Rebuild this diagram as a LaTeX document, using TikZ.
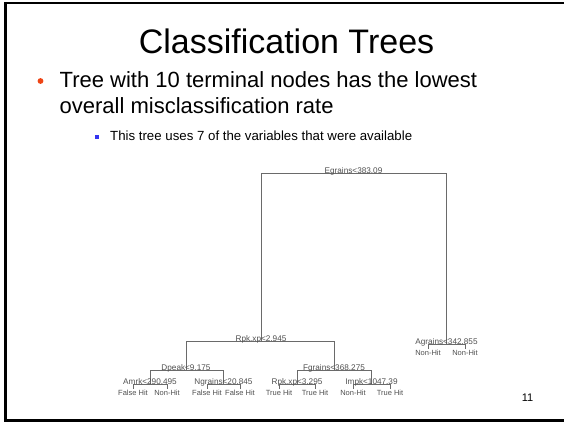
\documentclass[tikz,border=0pt]{standalone}
\usepackage{fontspec}
\setmainfont{Liberation Sans}
\definecolor{bulletred}{HTML}{EE4415}
\definecolor{bulletblue}{HTML}{3535F0}
\definecolor{treeline}{HTML}{6A6A6A}
\definecolor{treetext}{HTML}{505050}
\begin{document}
\begin{tikzpicture}[x=1pt,y=-1pt,
  frameline/.style={draw=black,line width=2.6pt},
  branch/.style={draw=treeline,line width=0.85pt},
  splitlabel/.style={anchor=base,inner sep=0pt,text=treetext,font=\fontsize{8.2}{9}\selectfont},
  leaflabel/.style={anchor=north,inner sep=0.5pt,text=treetext,font=\fontsize{7.5}{8}\selectfont}]
\useasboundingbox (0,0) rectangle (564,422);

% slide frame (left, top and bottom edges)
\draw[frameline] (5.5,2) -- (5.5,420.5);
\draw[frameline,line width=2.2pt] (4.2,3.1) -- (564,3.1);
\draw[frameline,line width=2.4pt] (4.2,420.3) -- (564,420.3);

% heading and bullets
\node[anchor=base,inner sep=0pt,font=\fontsize{34}{38}\selectfont] (title) at (286.5,54) {Classification Trees};
\fill[bulletred] (40.5,81) circle (2.9);
\node[anchor=base west,inner sep=0pt,font=\fontsize{22}{26}\selectfont] (b1a) at (59.5,88) {Tree with 10 terminal nodes has the lowest};
\node[anchor=base west,inner sep=0pt,font=\fontsize{22}{26}\selectfont] (b1b) at (59.5,114) {overall misclassification rate};
\fill[bulletblue] (95.2,135.2) rectangle (99.4,139.4);
\node[anchor=base west,inner sep=0pt,font=\fontsize{13.25}{16}\selectfont] (b2) at (110,141) {This tree uses 7 of the variables that were available};

% split points of the tree
\coordinate (root) at (353.5,173);
\coordinate (rpkA) at (261,341);
\coordinate (agr)  at (446.5,344);
\coordinate (dpk)  at (186,370);
\coordinate (fgr)  at (334,370);
\coordinate (amr)  at (150,384);
\coordinate (ngr)  at (223.5,384);
\coordinate (rpkB) at (297,384);
\coordinate (imp)  at (371.5,384);

% leaf ends
\coordinate (l1) at (133,389);
\coordinate (l2) at (167,389);
\coordinate (l3) at (207,389);
\coordinate (l4) at (240,389);
\coordinate (l5) at (279,389);
\coordinate (l6) at (315,389);
\coordinate (l7) at (353,389);
\coordinate (l8) at (390,389);
\coordinate (l9) at (428,349);
\coordinate (l10) at (465,349);

% branches: bar at the split level, verticals down to each child
\draw[branch] (rpkA |- root) -- (agr |- root);
\draw[branch] (rpkA |- root) -- (rpkA);
\draw[branch] (agr |- root) -- (agr);

\draw[branch] (dpk |- rpkA) -- (fgr |- rpkA);
\draw[branch] (dpk |- rpkA) -- (dpk);
\draw[branch] (fgr |- rpkA) -- (fgr);

\draw[branch] (l9 |- agr) -- (l10 |- agr);
\draw[branch] (l9 |- agr) -- (l9);
\draw[branch] (l10 |- agr) -- (l10);

\draw[branch] (amr |- dpk) -- (ngr |- dpk);
\draw[branch] (amr |- dpk) -- (amr);
\draw[branch] (ngr |- dpk) -- (ngr);

\draw[branch] (rpkB |- fgr) -- (imp |- fgr);
\draw[branch] (rpkB |- fgr) -- (rpkB);
\draw[branch] (imp |- fgr) -- (imp);

\foreach \s/\a/\b in {amr/l1/l2, ngr/l3/l4, rpkB/l5/l6, imp/l7/l8}{
  \draw[branch] (\a |- \s) -- (\b |- \s);
  \draw[branch] (\a |- \s) -- (\a);
  \draw[branch] (\b |- \s) -- (\b);
}

% split labels
\node[splitlabel] (troot) at ([yshift=-0.6pt]root) {Egrains<383.09};
\node[splitlabel] (trpkA) at ([yshift=-0.6pt]rpkA) {Rpk.xp<2.945};
\node[splitlabel] (tagr)  at ([yshift=-0.6pt]agr)  {Agrains<342.855};
\node[splitlabel] (tdpk)  at ([yshift=-0.6pt]dpk)  {Dpeak<9.175};
\node[splitlabel] (tfgr)  at ([yshift=-0.6pt]fgr)  {Fgrains<368.275};
\node[splitlabel] (tamr)  at ([yshift=-0.6pt]amr)  {Amrk<290.495};
\node[splitlabel] (tngr)  at ([yshift=-0.6pt]ngr)  {Ngrains<20.845};
\node[splitlabel] (trpkB) at ([yshift=-0.6pt]rpkB) {Rpk.xp<3.295};
\node[splitlabel] (timp)  at ([yshift=-0.6pt]imp)  {Impk<1047.39};

% leaf labels
\node[leaflabel] (n1) at (l1) {False Hit};
\node[leaflabel] (n2) at (l2) {Non-Hit};
\node[leaflabel] (n3) at (l3) {False Hit};
\node[leaflabel] (n4) at (l4) {False Hit};
\node[leaflabel] (n5) at (l5) {True Hit};
\node[leaflabel] (n6) at (l6) {True Hit};
\node[leaflabel] (n7) at (l7) {Non-Hit};
\node[leaflabel] (n8) at (l8) {True Hit};
\node[leaflabel] (n9) at (l9) {Non-Hit};
\node[leaflabel] (n10) at (l10) {Non-Hit};

% page number
\node[anchor=base,inner sep=0pt,font=\fontsize{11}{13}\selectfont] (pg) at (527.5,401) {11};
\end{tikzpicture}
\end{document}
